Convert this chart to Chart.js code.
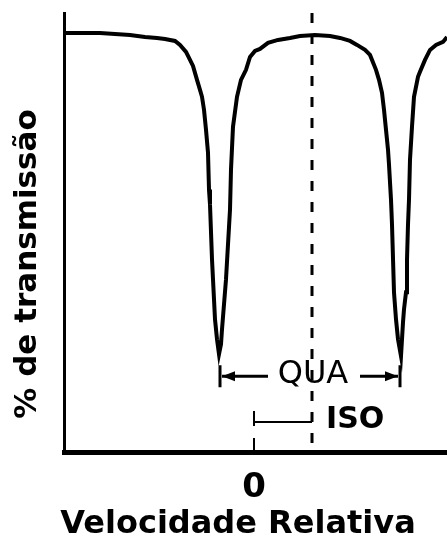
<!DOCTYPE html>
<html>
<head>
<meta charset="utf-8">
<script src="https://cdn.jsdelivr.net/npm/chart.js@4.4.0/dist/chart.umd.min.js"></script>
<style>
  html, body { margin: 0; padding: 0; background: #fff; }
  #wrap { width: 447px; height: 545px; }
</style>
</head>
<body>
<div id="wrap"><canvas id="c"></canvas></div>
<script>
// velocity (mm/s, relative) and transmission (%)
const velocity = [-1.90, -1.74, -1.54, -1.39, -1.24, -1.09, -0.97, -0.89, -0.79, -0.74,
  -0.68, -0.64, -0.61, -0.57, -0.54, -0.52, -0.50, -0.48, -0.46, -0.45,
  -0.44, -0.42, -0.39, -0.37, -0.35, -0.33, -0.32, -0.30, -0.28, -0.26,
  -0.24, -0.23, -0.21, -0.17, -0.13, -0.08, -0.04, 0.01, 0.06, 0.14,
  0.24, 0.36, 0.46, 0.61, 0.76, 0.86, 0.96, 1.03, 1.11, 1.16,
  1.22, 1.25, 1.28, 1.30, 1.32, 1.34, 1.35, 1.37, 1.38, 1.40,
  1.42, 1.44, 1.47, 1.49, 1.50, 1.52, 1.53, 1.54, 1.55, 1.56,
  1.58, 1.60, 1.64, 1.66, 1.71, 1.76, 1.82, 1.89, 1.93];
const transmission = [100.0, 100.0, 100.0, 99.9, 99.8, 99.6, 99.5, 99.4, 99.2, 98.8,
  98.1, 97.3, 96.7, 95.3, 94.3, 93.6, 92.3, 90.3, 88.0, 84.3,
  82.8, 77.3, 71.3, 69.3, 67.8, 68.8, 70.3, 72.8, 75.3, 78.8,
  82.3, 86.3, 90.6, 93.6, 95.3, 96.3, 97.6, 98.2, 98.4, 99.0,
  99.3, 99.5, 99.7, 99.8, 99.7, 99.5, 99.2, 98.8, 98.3, 97.8,
  96.3, 95.3, 94.0, 92.3, 90.3, 88.3, 86.8, 83.3, 80.8, 74.0,
  71.3, 69.3, 67.6, 71.0, 72.3, 74.0, 77.3, 80.8, 83.3, 87.3,
  90.6, 93.6, 95.6, 96.1, 97.3, 98.3, 98.8, 99.1, 99.6];
const xTicks = [0];
const isoShift = [0, 0.58];        // zero -> centre of doublet
const quaSplit = [-0.35, 1.47];    // the two minima
const quaLevel = 65.6;
const isoLevel = 61.0;
const zeroMarkTop = 62.1;
const xRange = [-1.90, 1.93];
const yRange = [58, 102];

const FONT = 'DejaVu Sans';

const marks = {
  id: 'marks',
  afterDatasetsDraw(chart) {
    const ctx = chart.ctx;
    const xs = chart.scales.x, ys = chart.scales.y;
    const area = chart.chartArea;
    ctx.save();
    ctx.strokeStyle = '#000';
    ctx.fillStyle = '#000';

    // dashed centre line
    const cx = xs.getPixelForValue(isoShift[1]);
    ctx.lineWidth = 3;
    ctx.setLineDash([10, 11]);
    ctx.beginPath();
    ctx.moveTo(cx, area.top);
    ctx.lineTo(cx, area.bottom);
    ctx.stroke();

    // zero marker
    const zx = xs.getPixelForValue(isoShift[0]);
    ctx.lineWidth = 2;
    ctx.setLineDash([15, 12]);
    ctx.beginPath();
    ctx.moveTo(zx, ys.getPixelForValue(zeroMarkTop));
    ctx.lineTo(zx, area.bottom);
    ctx.stroke();
    ctx.setLineDash([]);

    // ISO bracket
    const iy = ys.getPixelForValue(isoLevel);
    ctx.lineWidth = 2;
    ctx.beginPath();
    ctx.moveTo(zx, iy);
    ctx.lineTo(cx, iy);
    ctx.stroke();
    ctx.font = 'bold 30px ' + FONT;
    ctx.textAlign = 'left';
    ctx.textBaseline = 'middle';
    ctx.fillText('ISO', cx + 14, iy - 2);

    // QUA arrows
    const qy = ys.getPixelForValue(quaLevel);
    const ql = xs.getPixelForValue(quaSplit[0]);
    const qr = xs.getPixelForValue(quaSplit[1]);
    ctx.lineWidth = 3;
    ctx.beginPath();
    ctx.moveTo(ql + 1, qy - 11); ctx.lineTo(ql + 1, qy + 11);
    ctx.moveTo(qr - 1, qy - 11); ctx.lineTo(qr - 1, qy + 11);
    ctx.moveTo(ql + 3, qy); ctx.lineTo(ql + 49, qy);
    ctx.moveTo(qr - 3, qy); ctx.lineTo(qr - 41, qy);
    ctx.stroke();
    ctx.beginPath();
    ctx.moveTo(ql + 3, qy); ctx.lineTo(ql + 16, qy - 5); ctx.lineTo(ql + 16, qy + 5); ctx.closePath();
    ctx.moveTo(qr - 3, qy); ctx.lineTo(qr - 16, qy - 5); ctx.lineTo(qr - 16, qy + 5); ctx.closePath();
    ctx.fill();
    ctx.font = '32px ' + FONT;
    ctx.textAlign = 'center';
    ctx.fillText('QUA', (ql + qr) / 2 + 3, qy - 1);

    // axis titles
    ctx.font = 'bold 32px ' + FONT;
    ctx.textAlign = 'center';
    ctx.textBaseline = 'middle';
    ctx.fillText('Velocidade Relativa', 238, 525);
    ctx.font = 'bold 31px ' + FONT;
    ctx.translate(28, 264);
    ctx.rotate(-Math.PI / 2);
    ctx.fillText('% de transmissão', 0, 0);
    ctx.restore();
  }
};

new Chart(document.getElementById('c'), {
  type: 'line',
  data: {
    datasets: [{
      data: velocity.map((v, i) => ({ x: v, y: transmission[i] })),
      borderColor: '#000',
      borderWidth: 4,
      pointRadius: 0,
      tension: 0,
      fill: false
    }]
  },
  options: {
    animation: false,
    responsive: true,
    maintainAspectRatio: false,
    layout: { padding: { top: 13, right: 0, left: 0, bottom: 0 } },
    plugins: { legend: { display: false }, tooltip: { enabled: false } },
    scales: {
      x: {
        type: 'linear',
        min: xRange[0],
        max: xRange[1],
        grid: { display: false, drawTicks: false },
        border: { display: true, color: '#000', width: 5 },
        afterBuildTicks: (s) => { s.ticks = xTicks.map(v => ({ value: v })); },
        ticks: {
          color: '#000',
          font: { family: FONT, weight: 'bold', size: 34 },
          padding: 16,
          maxRotation: 0,
          autoSkip: false,
          callback: (v) => String(v)
        },
        afterFit: (s) => { s.height = 93; }
      },
      y: {
        min: yRange[0],
        max: yRange[1],
        grid: { display: false, drawTicks: false },
        border: { display: true, color: '#000', width: 3 },
        ticks: { display: false },
        afterFit: (s) => { s.width = 64; }
      }
    }
  },
  plugins: [marks]
});
</script>
</body>
</html>
